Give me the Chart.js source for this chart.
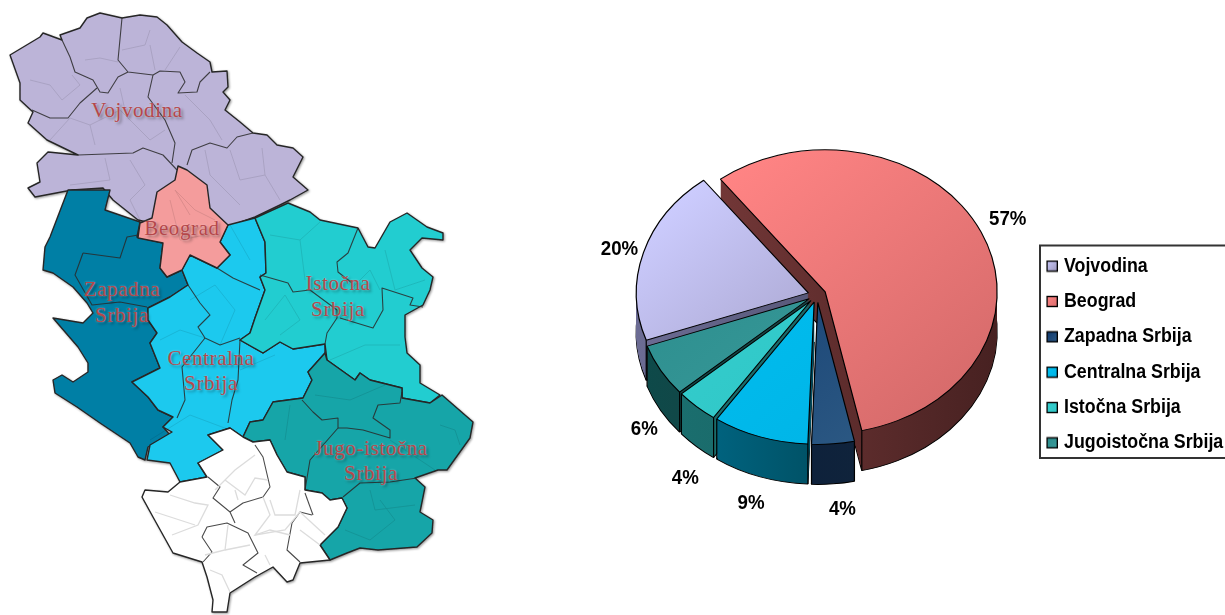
<!DOCTYPE html>
<html><head><meta charset="utf-8">
<style>
html,body{margin:0;padding:0;background:#fff;width:1225px;height:615px;overflow:hidden}
#map{position:absolute;left:0;top:0;filter:blur(.55px)}
#wrap{position:absolute;left:600px;top:0;width:625px;height:615px}
.lab{position:absolute;transform:translate(-50%,-50%);font:21px "Liberation Serif",serif;color:#b5474a;white-space:nowrap;letter-spacing:.6px;
text-shadow:0 0 2px rgba(255,255,255,.5),2px 2px 3px rgba(0,0,0,.4)}
</style>
<script src="https://cdn.jsdelivr.net/npm/chart.js@4"></script>
</head><body>
<svg id="map" width="600" height="615" viewBox="0 0 600 615">
<defs><filter id="sh" x="-5%" y="-5%" width="110%" height="110%"><feDropShadow dx="1" dy="1" stdDeviation="1.2" flood-color="#000" flood-opacity=".4"/></filter></defs>
<g filter="url(#sh)" stroke="#262626" stroke-width="1.4" stroke-linejoin="round">
<polygon fill="#bcb4d8" points="10,55 40,37 43,33 62,40 60,35 80,28 87,18 100,13 122,18 140,15 157,17 167,25 182,42 197,53 210,62 212,72 227,71 228,87 223,92 230,100 225,110 240,122 253,133 267,135 277,145 293,148 303,157 293,177 308,190 290,200 280,205 255,217 227,227 190,215 160,225 138,220 113,200 103,188 72,190 35,197 28,188 40,182 37,163 48,152 78,155 47,140 28,123 33,112 20,100 20,83"/>
<polygon fill="#047fa5" points="68,190 110,190 105,210 140,222 137,237 163,243 160,268 167,277 182,270 188,285 170,297 148,308 148,320 157,333 150,343 160,368 132,382 148,397 158,410 173,417 163,427 170,435 148,447 145,460 138,457 130,443 100,423 77,407 55,393 53,380 62,375 73,382 88,372 88,363 78,347 53,318 83,323 93,313 87,303 73,287 53,273 43,270 45,247 50,237"/>
<polygon fill="#1bc9ee" points="255,218 265,242 266,273 260,277 265,290 255,318 250,333 240,340 263,353 280,342 293,349 325,344 325,353 308,372 312,380 303,398 273,402 263,420 250,422 243,437 230,428 208,435 223,450 198,463 207,477 180,482 170,463 147,460 150,445 172,432 163,427 173,417 158,410 148,397 132,382 160,368 150,343 157,333 148,320 148,308 170,297 188,285 182,270 190,255 217,268 230,255 220,242 228,225"/>
<polygon fill="#20cdd0" points="255,218 288,203 310,212 320,220 358,228 368,247 375,248 390,222 407,213 427,227 443,233 443,240 422,238 410,250 422,268 433,277 430,290 423,305 405,315 405,337 407,353 420,365 420,383 440,395 430,403 402,398 402,388 370,380 360,373 355,380 327,360 325,344 293,349 280,342 263,353 240,340 250,333 255,318 265,290 260,277 266,273 265,242"/>
<polygon fill="#12a5a8" points="303,398 312,380 308,372 325,353 327,360 355,380 360,373 370,380 402,388 402,398 430,403 442,395 473,422 470,438 447,470 438,470 415,478 425,487 420,512 433,520 432,533 417,547 378,550 360,548 347,553 330,560 320,545 338,527 347,508 342,498 330,500 322,493 305,490 305,477 287,472 277,455 270,440 253,442 243,437 250,422 263,420 273,402"/>
<polygon fill="#f49c9c" points="178,166 187,170 207,185 210,208 228,225 220,242 230,255 217,268 190,255 182,270 167,277 160,268 163,243 138,238 140,223 152,218 157,192 175,180"/>
<polygon fill="#ffffff" points="230,428 243,437 253,442 270,440 277,455 287,472 305,477 305,490 322,493 330,500 342,498 347,508 338,527 320,545 330,560 300,563 293,580 287,582 273,567 255,577 230,593 227,612 212,612 213,600 207,577 202,562 173,553 153,517 142,497 145,490 168,492 180,482 207,477 198,463 223,450 208,435"/>
</g>
<g fill="none" stroke="#2a2a2a" stroke-width="1.1" stroke-linejoin="round" opacity=".85">
<polyline points="122,18 118,60 128,72 153,75"/><polyline points="62,40 70,57 75,72 93,80 100,92 108,93 118,77 128,72"/><polyline points="97,88 80,103 68,118 50,118 32,110"/><polyline points="153,75 160,71 180,72 185,82 178,93 197,92 200,82 210,72"/><polyline points="153,75 148,97 165,120 175,143 172,163"/><polyline points="78,155 133,153 143,148 163,155 177,170"/><polyline points="187,165 192,150 210,143 227,148 237,137 253,133"/>
<polyline points="83,253 120,258 127,237 138,235"/><polyline points="83,253 75,275 92,305 120,302 147,307"/>
<polyline points="188,285 200,303 210,315 198,327 205,338 220,345 240,338"/><polyline points="217,268 233,278 260,290"/><polyline points="205,338 182,367 185,400 177,418"/><polyline points="240,340 238,380 232,400 228,423"/>
<polyline points="358,228 348,253 337,262 338,272 352,283"/><polyline points="260,275 288,283 293,292 310,290 337,310 337,318 327,333 325,344"/><polyline points="340,318 373,328 383,310 382,288 413,298 410,305 423,307"/>
<polyline points="302,400 313,412 322,420 338,418 338,428 310,460 305,490"/><polyline points="338,428 347,428 363,430 390,438 390,430 373,418 378,405 400,403 402,392"/><polyline points="343,497 360,483 390,482 417,478"/>
<polyline points="208,477 220,487 213,498 230,512 235,523"/><polyline points="230,512 243,503 263,497 270,487 263,457 255,445"/><polyline points="202,537 207,527 227,523 248,533 258,553 243,565 257,573"/><polyline points="202,537 212,552 203,562"/><polyline points="312,515 300,512 292,523 287,550 300,562"/><polyline points="305,493 313,515"/>
</g>
<g fill="none" stroke="#000" stroke-width=".8" opacity=".12">
<polyline points="30,80 50,85 62,100 80,85 72,75"/><polyline points="85,60 100,58 118,62"/><polyline points="122,50 145,45 150,30"/><polyline points="150,45 155,70"/><polyline points="165,70 180,47"/><polyline points="50,140 70,118 90,125 95,145"/><polyline points="90,125 120,110 150,140 165,130"/><polyline points="120,88 125,110"/><polyline points="185,95 210,120 222,140"/><polyline points="105,158 110,180 70,185"/><polyline points="130,160 145,185 130,200 140,220"/><polyline points="205,150 210,175 240,205"/><polyline points="230,150 240,180 265,175 262,148"/><polyline points="265,175 280,200"/>
<polyline points="190,215 175,190 195,210 215,220"/><polyline points="170,200 180,240 205,235"/>
<polyline points="190,300 215,285 235,310 220,345"/><polyline points="160,340 180,330 205,338"/><polyline points="150,440 190,415 230,430"/><polyline points="240,370 275,355"/><polyline points="230,225 250,260"/>
<polyline points="270,235 300,240 320,222"/><polyline points="300,240 305,280"/><polyline points="265,320 285,295 300,320 280,335"/><polyline points="330,360 365,345 400,345"/><polyline points="385,250 395,290 425,280"/><polyline points="350,290 370,270 380,290"/>
<polyline points="290,405 285,440"/><polyline points="315,395 350,400 385,385"/><polyline points="440,425 455,430 460,445"/><polyline points="390,440 435,470"/><polyline points="380,500 395,520 370,540 345,530"/><polyline points="370,490 375,510 415,505"/>
</g>
<g fill="none" stroke="#dcdcdc" stroke-width="1.3">
<polyline points="170,495 195,503 208,505 198,525 172,535"/><polyline points="155,512 195,525"/><polyline points="215,490 235,470 255,455"/><polyline points="225,480 245,495 255,478 268,480"/><polyline points="235,490 238,500"/><polyline points="263,497 270,515 255,535 270,530 290,535"/><polyline points="255,535 285,530 300,512"/><polyline points="270,500 275,515 295,515 300,490"/><polyline points="300,512 325,535"/><polyline points="228,525 225,550 205,555"/><polyline points="225,550 250,545"/><polyline points="265,555 270,565"/><polyline points="300,530 320,545"/><polyline points="230,592 222,575 210,570"/>
</g>
</svg>
<div class="lab" style="left:137px;top:110px">Vojvodina</div>
<div class="lab" style="left:182px;top:228px">Beograd</div>
<div class="lab" style="left:122px;top:289px">Zapadna</div>
<div class="lab" style="left:122px;top:315px">Srbija</div>
<div class="lab" style="left:211px;top:358px">Centralna</div>
<div class="lab" style="left:211px;top:383px">Srbija</div>
<div class="lab" style="left:338px;top:283px">Istočna</div>
<div class="lab" style="left:338px;top:309px">Srbija</div>
<div class="lab" style="left:371px;top:448px">Jugo-istočna</div>
<div class="lab" style="left:371px;top:473px">Srbija</div>
<div id="wrap"><canvas id="c" width="625" height="615"></canvas></div>
<script>
const categories = ['Vojvodina','Beograd','Zapadna Srbija','Centralna Srbija','Istočna Srbija','Jugoistočna Srbija'];
const shares = [20,57,4,9,4,6];
const swatch = ['#c0bbe6','#f07c7c','#15406f','#00bdef','#33cccc','#2f9090'];
const topGrad = [['#cbcbfd','#9993b8'],['#ff8484','#d86c6c'],['#0f386e','#2d5a84'],['#00c0f2','#00b4e6'],['#34d0d0','#30c4c4'],['#2a8c8c','#3c9c9c']];
const sideGrad = [['#6c6c94','#45455f'],['#7c3c3c','#472121'],['#071a3a','#15293c'],['#006f90','#00343c'],['#1a7070','#1c5e5e'],['#0d4a4a','#2a3838']];
const labelNudge = [[1,4],[3,-2],[7,0],[-1,2],[6,13],[6,6]];
const FONT_FAMILY = '"Liberation Sans",Arial,sans-serif';
const SQUEEZE = 0.89;
const CX=217, CY=295, RY=142, RX=172, DEPTH=40, EXPLODE=9, TEXT_X=464;

// legend swatch: small canvas, drawn right of its centre so that it sits close to the text
function makeSwatch(i){
  const c=document.createElement('canvas');c.width=26;c.height=13;
  const g=c.getContext('2d'), lg=g.createLinearGradient(14,1,26,12);
  lg.addColorStop(0,topGrad[i][0]);lg.addColorStop(1,topGrad[i][1]);
  g.fillStyle=lg;g.fillRect(14,1.5,11.4,10);
  g.strokeStyle='#000';g.lineWidth=1.4;g.strokeRect(14,1.5,11.4,10);
  return c;
}

const pie3d = {
  id:'pie3d',
  afterLayout(chart){
    const lg=chart.legend;
    if(lg._wrapped) return; lg._wrapped=true;
    const orig=lg.draw;
    lg.draw=function(){
      const ctx=chart.ctx, xt=lg.legendHitBoxes[0].left+12+10+8;
      ctx.save();ctx.translate(TEXT_X,0);ctx.scale(SQUEEZE,1);ctx.translate(-xt,0);
      orig.call(lg);ctx.restore();
    };
  },
  beforeDatasetsDraw(chart){
    const ctx=chart.ctx, arcs=chart.getDatasetMeta(0).data;
    const k=RY/RX, R=RX;
    const grad=(el,c,diag)=>{
      const g=diag?ctx.createLinearGradient(el.x-R*.7,el.y-R*.7,el.x+R*.7,el.y+R*.7):ctx.createLinearGradient(el.x-R,el.y,el.x+R,el.y);
      g.addColorStop(0,c[0]);g.addColorStop(1,c[1]);return g;
    };
    const order=[1,0,5,4,3,2];
    order.forEach(i=>{
      const el=arcs[i], saved=el.options;
      const mid=(el.startAngle+el.endAngle)/2;
      const ex=Math.cos(mid)*EXPLODE, ey=Math.sin(mid)*EXPLODE;
      const base=()=>{ctx.translate(CX,CY);ctx.scale(1,k);ctx.translate(ex-el.x,ey-el.y);};
      const sideFill=grad(el,sideGrad[i],false);
      for(let d=DEPTH;d>=1;d--){
        ctx.save();base();ctx.translate(0,d/k);
        el.options=Object.assign({},saved,{backgroundColor:sideFill,borderWidth:d===DEPTH?1.2:0,borderColor:'#000'});
        el.draw(ctx);ctx.restore();
      }
      [el.startAngle,el.endAngle].forEach(a=>{
        if(Math.sin(a)<=0) return;
        const x=CX+ex+Math.cos(a)*R, y=CY+(ey+Math.sin(a)*R)*k;
        ctx.save();ctx.strokeStyle='#000';ctx.lineWidth=1.2;ctx.beginPath();ctx.moveTo(x,y);ctx.lineTo(x,y+DEPTH);ctx.stroke();ctx.restore();
      });
      ctx.save();base();
      el.options=Object.assign({},saved,{backgroundColor:grad(el,topGrad[i],true),borderWidth:1.2,borderColor:'#000'});
      el.draw(ctx);ctx.restore();
      el.options=saved;
    });
    return false;
  },
  afterDraw(chart){
    const ctx=chart.ctx, arcs=chart.getDatasetMeta(0).data;
    ctx.save();
    ctx.font='bold 21px '+FONT_FAMILY;ctx.fillStyle='#000';ctx.textAlign='center';ctx.textBaseline='middle';
    arcs.forEach((el,i)=>{
      const mid=(el.startAngle+el.endAngle)/2, s=Math.sin(mid);
      const x=CX+Math.cos(mid)*207+labelNudge[i][0];
      const y=CY+s*175+(s>0?DEPTH:0)+labelNudge[i][1];
      ctx.save();ctx.translate(x,y);ctx.scale(SQUEEZE,1);ctx.fillText(shares[i]+'%',0,0);ctx.restore();
    });
    ctx.strokeStyle='#333';ctx.lineWidth=2;
    ctx.strokeRect(440,245.5,200,212.5);
    ctx.restore();
  }
};
new Chart(document.getElementById('c'),{
  type:'pie',
  data:{labels:categories,datasets:[{data:shares,backgroundColor:swatch,borderColor:'#000',borderWidth:1.2,radius:RX}]},
  plugins:[pie3d],
  options:{
    responsive:false,animation:false,rotation:-109.5,
    layout:{padding:{top:94}},
    plugins:{
      tooltip:{enabled:false},
      legend:{position:'right',align:'center',labels:{
        usePointStyle:true,boxHeight:12,padding:15.35,color:'#000',
        font:{family:FONT_FAMILY,size:20,weight:'bold'},
        generateLabels:chart=>categories.map((t,i)=>({text:t,fillStyle:swatch[i],strokeStyle:'#000',lineWidth:1.2,pointStyle:makeSwatch(i),fontColor:'#000',hidden:false,index:i}))
      }}
    }
  }
});
</script>
</body></html>
